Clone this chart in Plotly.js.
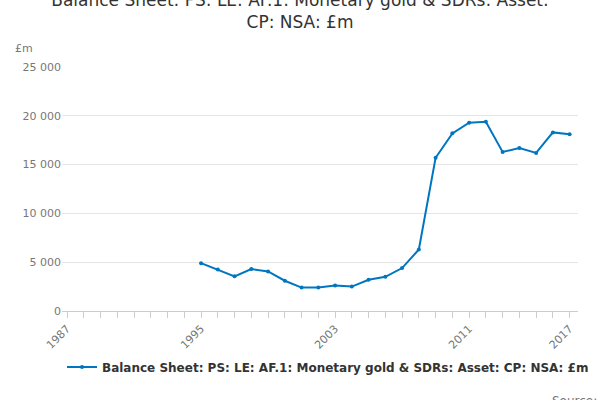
<!DOCTYPE html><html><head><script src="https://cdn.plot.ly/plotly-3.0.1.min.js"></script></head><body style="margin:0"><div id="c" style="width:600px;height:400px"></div><script>
var years=[1995,1996,1997,1998,1999,2000,2001,2002,2003,2004,2005,2006,2007,2008,2009,2010,2011,2012,2013,2014,2015,2016,2017];
var values=[4900,4250,3550,4300,4050,3100,2400,2400,2600,2500,3200,3500,4400,6300,15700,18200,19300,19400,16300,16700,16200,18300,18100];
var tickVals=[1987,1995,2003,2011,2017];
Plotly.newPlot('c',[{x:years,y:values,mode:'lines+markers',line:{color:'#0076c0',width:2},marker:{size:4,color:'#0076c0'},name:'<b>Balance Sheet: PS: LE: AF.1: Monetary gold & SDRs: Asset: CP: NSA: £m</b>'}],{
width:600,height:400,font:{family:'DejaVu Sans',color:'#333'},
title:{text:'Balance Sheet: PS: LE: AF.1: Monetary gold & SDRs: Asset:<br>CP: NSA: £m',font:{size:17},x:0.5,xanchor:'center',y:0.985,yanchor:'top'},
margin:{l:62,r:22,t:67,b:89},
xaxis:{range:[1986.7,2017.5],tickvals:tickVals,ticktext:tickVals.map(String),tickangle:-45,showgrid:false,ticks:'outside',ticklen:6,tickcolor:'#ccc',showline:true,linecolor:'#ccc',tickfont:{size:11,color:'#777'},
 minor:{dtick:1,ticks:'outside',ticklen:6,tickcolor:'#ccc',showgrid:false}},
yaxis:{range:[0,25000],dtick:5000,tickformat:',',gridcolor:'#e5e5e5',zeroline:false,tickfont:{size:11,color:'#777'},ticklen:0},
separators:'. ',
showlegend:true,legend:{orientation:'h',x:0.0,xanchor:'left',y:-0.17,yanchor:'top',font:{size:12,color:'#333'}},
annotations:[{text:'£m',xref:'paper',yref:'paper',x:-0.095,y:1.04,yanchor:'bottom',showarrow:false,font:{size:11,color:'#777'},xanchor:'left'},
{text:'Source:',xref:'paper',yref:'paper',x:1.04,y:-0.33,yanchor:'top',showarrow:false,xanchor:'right',font:{size:12,color:'#777'}}]
},{displayModeBar:false});
</script></body></html>
